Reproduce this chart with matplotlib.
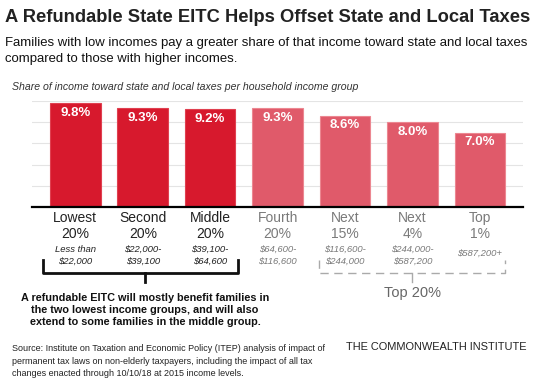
import matplotlib
matplotlib.use("Agg")
import matplotlib.pyplot as plt
from matplotlib import font_manager
from matplotlib.transforms import blended_transform_factory

def pick(fams):
    for f in fams:
        try:
            font_manager.findfont(font_manager.FontProperties(family=f), fallback_to_default=False)
            return f
        except Exception:
            pass
    return "DejaVu Sans"

FONT = pick(["Liberation Sans Narrow", "Liberation Sans", "DejaVu Sans"])
plt.rcParams['font.family'] = [FONT, 'DejaVu Sans']

# ---- data ----
groups = ["Lowest", "Second", "Middle", "Fourth", "Next", "Next", "Top"]
shares = ["20%", "20%", "20%", "20%", "15%", "4%", "1%"]
incomes = ["Less than\n$22,000", "$22,000-\n$39,100", "$39,100-\n$64,600",
           "$64,600-\n$116,600", "$116,600-\n$244,000", "$244,000-\n$587,200", "$587,200+"]
values = [9.8, 9.3, 9.2, 9.3, 8.6, 8.0, 7.0]
highlight = [True, True, True, False, False, False, False]

title = "A Refundable State EITC Helps Offset State and Local Taxes"
subtitle = ("Families with low incomes pay a greater share of that income toward state and local taxes\n"
            "compared to those with higher incomes.")
axis_note = "Share of income toward state and local taxes per household income group"
bracket_note = ("A refundable EITC will mostly benefit families in\n"
                "the two lowest income groups, and will also\n"
                "extend to some families in the middle group.")
top_note = "Top 20%"
source = ("Source: Institute on Taxation and Economic Policy (ITEP) analysis of impact of\n"
          "permanent tax laws on non-elderly taxpayers, including the impact of all tax\n"
          "changes enacted through 10/10/18 at 2015 income levels.")
org = "THE COMMONWEALTH INSTITUTE"

DARK = "#D7192D"
DARK_EDGE = "#E04050"
LIGHT = "#E05A6A"
LIGHT_EDGE = "#EC8791"

W, H = 540, 385
fig = plt.figure(figsize=(W / 100, H / 100), dpi=100)
fig.patch.set_facecolor("white")
renderer = fig.canvas.get_renderer()

def fx(px): return px / W
def fy(py): return 1 - py / H

def fit(t, target_w):
    """Scale a text's font size so its rendered width matches target_w pixels."""
    for _ in range(3):
        w = t.get_window_extent(renderer=renderer).width
        t.set_fontsize(t.get_fontsize() * target_w / w)
    return t

ax = fig.add_axes([fx(32), fy(207), (523 - 32) / W, (207 - 101) / H])
x = list(range(len(values)))
colors = [DARK if h else LIGHT for h in highlight]
edges = [DARK_EDGE if h else LIGHT_EDGE for h in highlight]
ax.bar(x, values, width=0.75, color=colors, edgecolor=edges, linewidth=0.8, zorder=3)
ax.set_xlim(-0.643, 6.64)
ax.set_ylim(0, 10)
for g in [2, 4, 6, 8, 10]:
    ax.axhline(g, color="#e4e4e4", lw=0.8, zorder=1)
ax.axhline(0, color="black", lw=1.6, zorder=4, clip_on=False)
for s in ax.spines.values():
    s.set_visible(False)
ax.set_xticks([]); ax.set_yticks([])

for i, v in enumerate(values):
    ax.text(i, v - 0.9, f"{v:.1f}%", ha="center", va="center", color="white",
            fontsize=9.5, fontweight="bold", zorder=5)

tr = blended_transform_factory(ax.transData, fig.transFigure)
for i in x:
    c = "#222222" if highlight[i] else "#7a7a7a"
    ax.text(i, fy(218), groups[i], transform=tr, ha="center", va="center", fontsize=10, color=c)
    ax.text(i, fy(234), shares[i], transform=tr, ha="center", va="center", fontsize=10, color=c)
    if "\n" in incomes[i]:
        ax.text(i, fy(255), incomes[i], transform=tr, ha="center", va="center",
                fontsize=6.8, style="italic", color=c, linespacing=1.4)
    else:
        ax.text(i, fy(253), incomes[i], transform=tr, ha="center", va="center",
                fontsize=6.8, style="italic", color=c)

# Texts on top
t = fig.text(fx(5), fy(17), title, ha="left", va="center", fontsize=16, fontweight="bold", color="#222222")
fit(t, 525)
t = fig.text(fx(5), fy(51), subtitle, ha="left", va="center",
             fontsize=12, color="#111111", linespacing=1.35)
fit(t, 522)
t = fig.text(fx(12), fy(87), axis_note, ha="left", va="center", fontsize=8, style="italic", color="#333333")
fit(t, 343)

# Solid bracket
fig.add_artist(plt.Line2D([fx(43), fx(43), fx(238), fx(238)], [fy(260), fy(273), fy(273), fy(260)],
                          transform=fig.transFigure, color="#111111", lw=2))
fig.add_artist(plt.Line2D([fx(145), fx(145)], [fy(273), fy(282)], transform=fig.transFigure, color="#111111", lw=2))
t = fig.text(fx(145), fy(310), bracket_note, ha="center", va="center", fontsize=10, fontweight="bold",
             color="#111111", linespacing=1.3)
fit(t, 248)

# Dashed bracket
fig.add_artist(plt.Line2D([fx(319), fx(319), fx(505), fx(505)], [fy(260), fy(273), fy(273), fy(260)],
                          transform=fig.transFigure, color="#aaaaaa", lw=1, linestyle=(0, (6, 4))))
fig.add_artist(plt.Line2D([fx(412), fx(412)], [fy(273), fy(282)], transform=fig.transFigure, color="#aaaaaa", lw=1))
fig.text(fx(412), fy(293), top_note, ha="center", va="center", fontsize=10.5, color="#666666")

t = fig.text(fx(12), fy(361), source, ha="left", va="center", fontsize=7, color="#222222", linespacing=1.55)
fit(t, 312)
t = fig.text(fx(527), fy(347), org, ha="right", va="center", fontsize=8, color="#222222")
fit(t, 182)

fig.savefig("out.png", dpi=100, facecolor="white")
